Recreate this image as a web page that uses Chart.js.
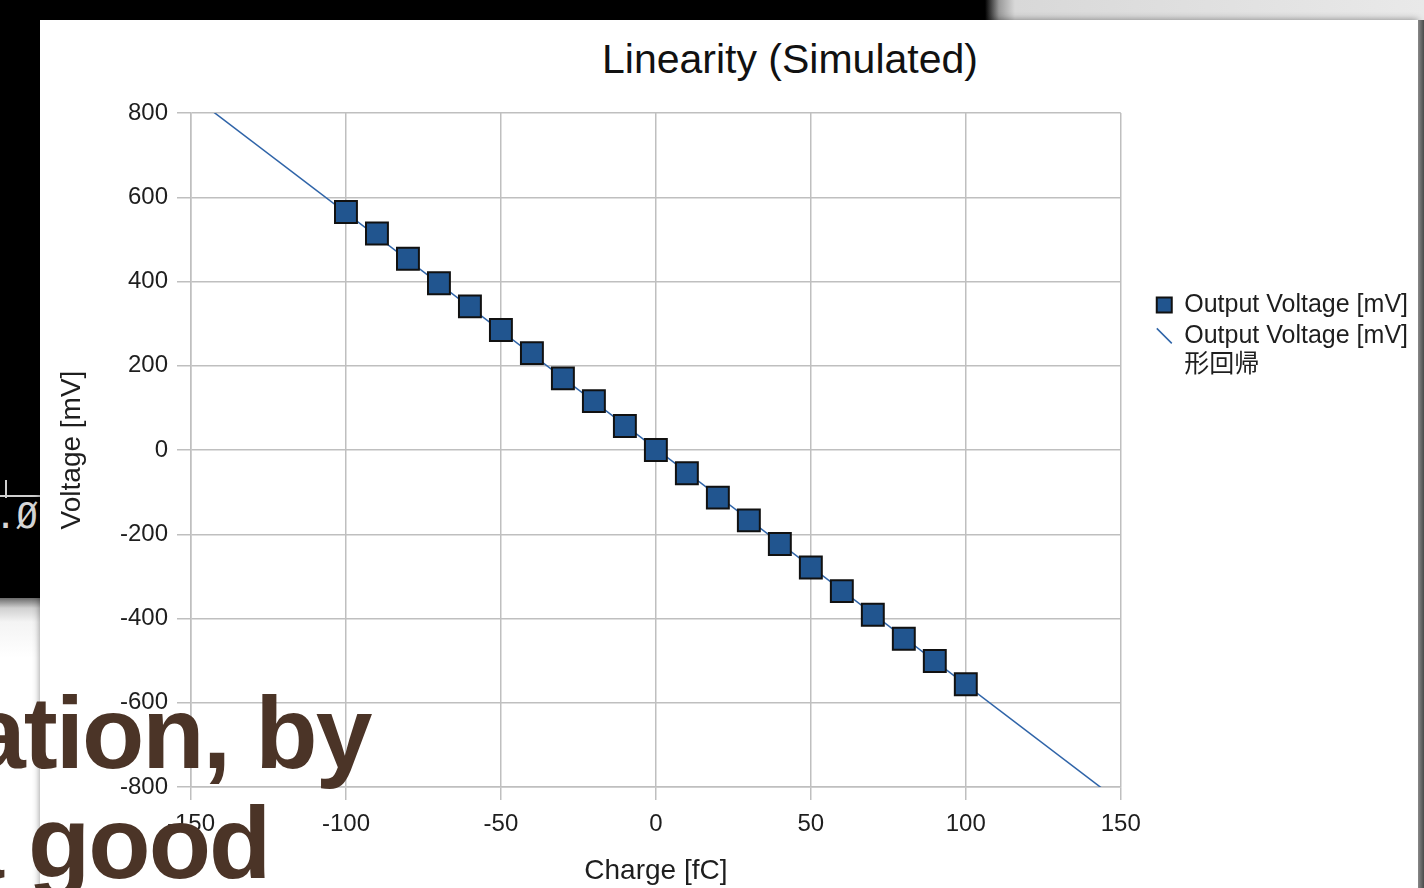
<!DOCTYPE html>
<html lang="en">
<head>
    <meta charset="UTF-8">
    <title>Linearity (Simulated)</title>
    <script src="https://cdn.jsdelivr.net/npm/chart.js"></script>
    <style>
        html, body { margin: 0; padding: 0; }
        body { width: 1424px; height: 888px; overflow: hidden; position: relative; background: #fff;
               font-family: "Liberation Sans", Arial, sans-serif; }
        .slide-black { position: absolute; left: 0; top: 0; width: 985px; height: 598px; background: #000; }
        .slide-top { position: absolute; left: 985px; top: 0; width: 439px; height: 22px;
                     background: linear-gradient(to right, #000 0px, #9a9a9a 14px, #d8d8d8 30px, #e9e9e9 100%); }
        .slide-left { position: absolute; left: 0; top: 598px; width: 40px; height: 290px;
                      background: linear-gradient(to bottom, #6a6a6a 0px, #d0d0d0 10px, #f4f4f4 24px, #fff 60px); }
        .scope-text { position: absolute; left: -27px; top: 496px; color: #d6d6d6; font: 36px "DejaVu Sans Mono", monospace; line-height: 40px; }
        .scope-tick-v { position: absolute; left: 5px; top: 480px; width: 2px; height: 18px; background: #cfcfcf; }
        .scope-tick-h { position: absolute; left: 0; top: 495px; width: 40px; height: 2px; background: #cfcfcf; }
        .panel { position: absolute; left: 40px; top: 20px; width: 1378px; height: 880px; background: #fff;
                 box-shadow: 0 0 7px rgba(0,0,0,0.45); }
        .panel-edge { position: absolute; left: 1418px; top: 20px; width: 6px; height: 868px;
                      background: linear-gradient(to right, #8a8a8a, #4a4a4a); }
        .chart-title { position: absolute; left: 590px; top: 39px; width: 400px; text-align: center;
                       font-size: 41px; line-height: 41px; color: #111; white-space: nowrap; }
        .chart-box { position: absolute; left: 40px; top: 20px; width: 1378px; height: 868px; }
        .slide-text { position: absolute; color: #4b3427; font-weight: bold; font-size: 102px; line-height: 102px;
                      letter-spacing: -2px; white-space: nowrap; z-index: 5; }
    </style>
</head>
<body>

<div class="slide-black"></div>
<div class="slide-top"></div>
<div class="slide-left"></div>
<div class="scope-tick-v"></div>
<div class="scope-tick-h"></div>
<div class="scope-text">0.Ø0</div>
<div class="panel"></div>
<div class="panel-edge"></div>
<div class="chart-title">Linearity (Simulated)</div>
<div class="chart-box"><canvas id="myChart"></canvas></div>
<div class="slide-text" style="left:-31px; top:682px;">ation, by</div>
<div class="slide-text" style="left:-53px; top:792px;">a good</div>

<script>
    // measured points
    const chargeFc = [-100, -90, -80, -70, -60, -50, -40, -30, -20, -10, 0, 10, 20, 30, 40, 50, 60, 70, 80, 90, 100];
    const outputMv = [565, 514, 454, 396, 341, 285, 230, 170, 116, 57, 0, -55, -113, -167, -223, -279, -335, -391, -448, -501, -556];

    // regression line end points (clipped by the plot area)
    const trendFc = [-150, 150];
    const trendMv = [843, -837];

    const seriesName = 'Output Voltage [mV]';
    const trendName = ['Output Voltage [mV]', '形回帰'];

    const FONT = "'Liberation Sans', Arial, 'Noto Sans CJK JP', sans-serif";
    const gridColor = '#bfbfbf';
    const textColor = '#1e1e1e';

    Chart.defaults.font.family = FONT;

    const ctx = document.getElementById('myChart').getContext('2d');

    const chart = new Chart(ctx, {
        type: 'scatter',
        data: {
            datasets: [{
                label: seriesName,
                data: chargeFc.map((x, i) => ({x: x, y: outputMv[i]})),
                pointStyle: 'rect',
                pointRadius: 15.5,
                pointHoverRadius: 15.5,
                backgroundColor: '#21558f',
                borderColor: '#111111',
                borderWidth: 2,
                xAxisID: 'x',
                yAxisID: 'y',
                order: 1
            }, {
                type: 'line',
                label: trendName,
                data: trendFc.map((x, i) => ({x: x, y: trendMv[i]})),
                borderColor: '#2f64a8',
                borderWidth: 1.5,
                pointRadius: 0,
                pointHoverRadius: 0,
                pointStyle: 'line',
                pointRotation: 45,
                pointBorderColor: '#2f64a8',
                pointBorderWidth: 1.5,
                fill: false,
                xAxisID: 'x',
                yAxisID: 'y',
                order: 2
            }]
        },
        options: {
            responsive: true,
            maintainAspectRatio: false,
            animation: false,
            layout: {
                padding: {top: 93, right: 0, bottom: 0, left: 0}
            },
            plugins: {
                title: {display: false},
                tooltip: {enabled: false},
                legend: {
                    position: 'right',
                    align: 'start',
                    maxWidth: 320,
                    title: {display: true, text: '', padding: {top: 159, bottom: 0}},
                    labels: {
                        usePointStyle: true,
                        boxWidth: 15,
                        boxHeight: 15,
                        padding: 6,
                        color: textColor,
                        font: {size: 25, lineHeight: 1.15}
                    }
                }
            },
            scales: {
                x: {
                    type: 'linear',
                    position: 'bottom',
                    min: -150,
                    max: 150,
                    ticks: {stepSize: 50, color: textColor, font: {size: 24}, padding: 10},
                    grid: {color: gridColor, lineWidth: 1.5, tickLength: 13},
                    border: {color: gridColor, width: 1.5},
                    title: {display: true, text: 'Charge [fC]', color: textColor, font: {size: 28}, padding: {top: 0, bottom: 0}},
                    afterFit: s => { s.height = 101; }
                },
                y: {
                    type: 'linear',
                    position: 'left',
                    min: -800,
                    max: 800,
                    ticks: {stepSize: 200, color: textColor, font: {size: 24}, padding: 9},
                    grid: {color: gridColor, lineWidth: 1.5, tickLength: 14},
                    border: {color: gridColor, width: 1.5},
                    title: {display: true, text: 'Voltage [mV]', color: textColor, font: {size: 28}, padding: {top: 15, bottom: 0}},
                    afterFit: s => { s.width = 151; }
                },
                pad: {
                    type: 'linear',
                    position: 'right',
                    display: true,
                    grid: {display: false},
                    border: {display: false},
                    ticks: {display: false},
                    afterFit: s => { s.width = 30; }
                }
            }
        }
    });
</script>

</body>
</html>
